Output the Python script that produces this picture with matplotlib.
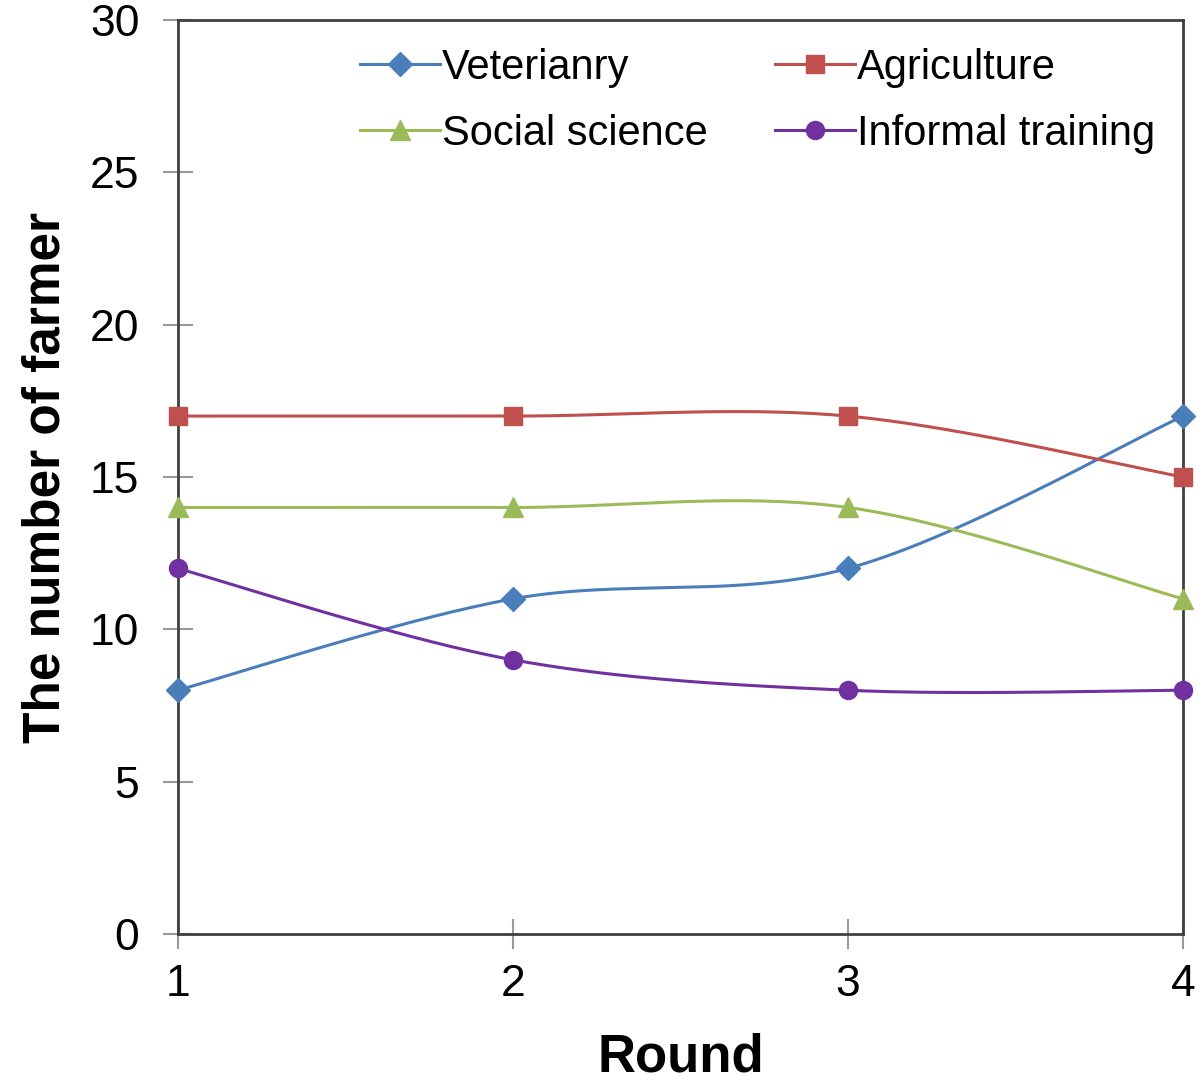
import numpy as np
import matplotlib.pyplot as plt

plt.rcParams['font.family'] = ['Liberation Sans', 'DejaVu Sans']

rounds = [1, 2, 3, 4]
veterinary = [8, 11, 12, 17]
agriculture = [17, 17, 17, 15]
social_science = [14, 14, 14, 11]
informal_training = [12, 9, 8, 8]


def smooth(x, y, n=60):
    # excel-like smoothing (catmull-rom through the points)
    x = np.asarray(x, float)
    y = np.asarray(y, float)
    px = np.concatenate([[x[0]], x, [x[-1]]])
    py = np.concatenate([[y[0]], y, [y[-1]]])
    xs, ys = [], []
    for i in range(1, len(px) - 2):
        t = np.linspace(0, 1, n)
        mx0 = (px[i + 1] - px[i - 1]) / 2
        mx1 = (px[i + 2] - px[i]) / 2
        my0 = (py[i + 1] - py[i - 1]) / 2
        my1 = (py[i + 2] - py[i]) / 2
        h00 = 2 * t**3 - 3 * t**2 + 1
        h10 = t**3 - 2 * t**2 + t
        h01 = -2 * t**3 + 3 * t**2
        h11 = t**3 - t**2
        xs.append(h00 * px[i] + h10 * mx0 + h01 * px[i + 1] + h11 * mx1)
        ys.append(h00 * py[i] + h10 * my0 + h01 * py[i + 1] + h11 * my1)
    return np.concatenate(xs), np.concatenate(ys)


series = [
    ("Veterianry", veterinary, '#4A7EBB', 'D', 12),
    ("Agriculture", agriculture, '#C0504D', 's', 13),
    ("Social science", social_science, '#9BBB59', '^', 14),
    ("Informal training", informal_training, '#7030A0', 'o', 13),
]

fig = plt.figure(figsize=(12, 10.84), dpi=100)
ax = fig.add_axes([0.148, 0.1384, 0.838, 0.8431])

handles = {}
for name, vals, col, mk, ms in series:
    sx, sy = smooth(rounds, vals)
    ax.plot(sx, sy, color=col, linewidth=2.2, zorder=2)
    ax.plot(rounds, vals, linestyle='none', marker=mk, markersize=ms,
            color=col, zorder=3, clip_on=False)
    h, = ax.plot([], [], color=col, linewidth=2.2, marker=mk, markersize=ms, label=name)
    handles[name] = h

ax.set_xlim(1, 4)
ax.set_ylim(0, 30)
ax.set_xticks(rounds)
ax.set_yticks(range(0, 31, 5))
ax.tick_params(axis='both', direction='inout', length=21, width=1.5,
               color='#999999', labelsize=32)
ax.tick_params(axis='y', pad=17)
ax.tick_params(axis='x', pad=11)
for s in ax.spines.values():
    s.set_color('#404040')
    s.set_linewidth(2)

ax.set_xlabel("Round", fontsize=38, fontweight='bold', labelpad=20)
ax.set_ylabel("The number of farmer", fontsize=37, fontweight='bold', labelpad=14)

# row-wise order like excel: Vet, Agri / Social, Informal
order = ["Veterianry", "Social science", "Agriculture", "Informal training"]
ax.legend([handles[k] for k in order], order,
          loc='upper left', bbox_to_anchor=(0.3, 0.956), bbox_transform=fig.transFigure,
          ncol=2, frameon=False, fontsize=30, handlelength=1.92, handletextpad=0.05,
          columnspacing=1.6, labelspacing=0.62, borderpad=0, borderaxespad=0)

fig.savefig('out.png', dpi=100)
